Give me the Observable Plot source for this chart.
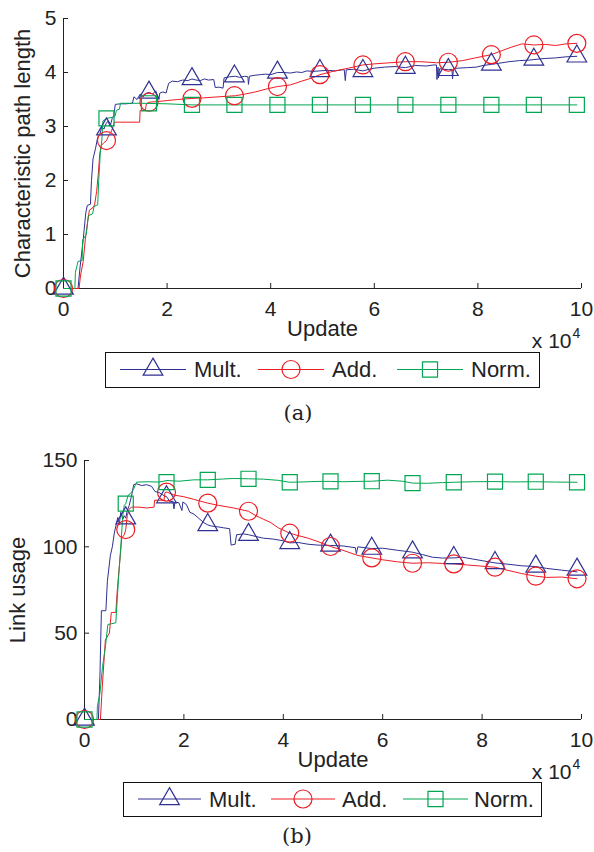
<!DOCTYPE html>
<html><head><meta charset="utf-8">
<script src="https://cdn.jsdelivr.net/npm/d3@7"></script>
<script src="https://cdn.jsdelivr.net/npm/@observablehq/plot@0.6"></script>
<style>
body{margin:0;background:#fff;}
#fig{position:relative;width:594px;height:852px;font-family:"Liberation Sans",Arial,Helvetica,sans-serif;color:#222;overflow:hidden;}
.panel{position:absolute;left:0;}
.legend{position:absolute;border:1.4px solid #111;box-sizing:border-box;}
.legend .item{position:absolute;top:0;height:100%;}
.legend .lab{position:absolute;top:50%;transform:translateY(-50%);font-size:22px;white-space:nowrap;line-height:1;}
.cap{position:absolute;font-family:"DejaVu Serif","Liberation Serif",serif;font-size:21px;transform:translate(-50%,-50%);color:#222;}
</style></head><body><div id="fig"></div>
<script>
// ---------- data (x in units of 10^4 updates) ----------
const seriesNames = ["Mult.", "Add.", "Norm."];
const seriesColors = ["#2e3192", "#ed1c24", "#00a651"];
const seriesSymbols = ["triangle", "circle", "square"];
const xTicks = [0, 2, 4, 6, 8, 10];
const pathTicks = [0, 1, 2, 3, 4, 5];
const usageTicks = [0, 50, 100, 150];
const markerUpdates = [0, 0.83, 1.65, 2.48, 3.3, 4.13, 4.95, 5.78, 6.6, 7.43, 8.26, 9.08, 9.91];

// (a) characteristic path length
const pathMult = [[0,0],[0.28,0],[0.32,0.4],[0.38,0.9],[0.43,1.4],[0.46,1.54],[0.52,1.56],[0.54,2.0],[0.57,2.4],[0.62,2.6],[0.66,2.8],[0.70,2.85],[0.74,3.0],[0.78,2.95],[0.82,3.05],[0.86,3.1],[0.90,3.0],[0.94,3.15],[0.97,3.2],[1.00,3.41],[1.10,3.42],[1.20,3.42],[1.33,3.43],[1.36,3.55],[1.42,3.5],[1.48,3.6],[1.54,3.55],[1.60,3.62],[1.66,3.63],[1.72,3.6],[1.78,3.66],[1.84,3.5],[1.86,3.62],[1.92,3.64],[1.98,3.62],[2.03,3.8],[2.1,3.84],[2.2,3.83],[2.3,3.86],[2.4,3.85],[2.48,3.88],[2.56,3.86],[2.64,3.85],[2.72,3.88],[2.8,3.86],[2.9,3.87],[2.93,3.72],[3.0,3.73],[3.08,3.71],[3.1,3.9],[3.2,3.92],[3.32,3.93],[3.4,3.91],[3.5,3.93],[3.56,3.92],[3.57,3.78],[3.59,3.93],[3.7,3.95],[3.8,3.96],[3.9,3.97],[4.0,3.96],[4.13,4.0],[4.25,4.0],[4.38,3.99],[4.5,4.01],[4.6,4.0],[4.7,4.03],[4.8,4.02],[4.95,4.03],[5.1,4.04],[5.25,4.03],[5.38,4.05],[5.42,4.05],[5.44,3.85],[5.46,4.05],[5.6,4.06],[5.78,4.03],[5.9,4.06],[6.0,4.08],[6.2,4.1],[6.4,4.11],[6.6,4.09],[6.8,4.13],[7.0,4.12],[7.15,4.14],[7.2,4.14],[7.21,3.87],[7.23,4.1],[7.24,3.9],[7.26,4.07],[7.44,4.05],[7.5,4.06],[7.51,3.88],[7.53,4.07],[7.6,4.08],[7.8,4.09],[7.97,4.1],[8.1,4.13],[8.26,4.15],[8.4,4.17],[8.6,4.2],[8.8,4.22],[9.0,4.23],[9.08,4.24],[9.3,4.26],[9.5,4.27],[9.7,4.29],[9.91,4.3]];
const pathAdd = [[0,0],[0.3,0],[0.33,0.25],[0.38,0.5],[0.42,0.9],[0.46,1.2],[0.5,1.45],[0.57,1.5],[0.6,1.55],[0.64,1.8],[0.67,2.1],[0.7,2.5],[0.73,2.65],[0.78,2.7],[0.83,2.74],[0.88,2.85],[0.92,2.9],[0.96,3.0],[0.98,3.08],[1.2,3.08],[1.47,3.08],[1.48,3.3],[1.58,3.3],[1.6,3.42],[1.65,3.45],[1.8,3.46],[2.0,3.48],[2.2,3.5],[2.48,3.52],[2.7,3.53],[3.0,3.55],[3.32,3.57],[3.5,3.6],[3.7,3.64],[3.9,3.69],[4.13,3.74],[4.38,3.77],[4.6,3.84],[4.8,3.9],[4.95,3.96],[5.2,4.02],[5.5,4.08],[5.78,4.14],[6.0,4.16],[6.3,4.18],[6.6,4.2],[6.9,4.2],[7.2,4.18],[7.44,4.19],[7.7,4.22],[7.95,4.27],[8.1,4.3],[8.26,4.33],[8.45,4.4],[8.65,4.47],[8.85,4.53],[9.08,4.51],[9.3,4.52],[9.5,4.5],[9.7,4.53],[9.91,4.54]];
const pathNorm = [[0,0],[0.22,0],[0.23,0.3],[0.28,0.5],[0.36,0.52],[0.37,0.9],[0.44,1.0],[0.48,1.35],[0.56,1.38],[0.59,1.52],[0.66,1.55],[0.68,2.0],[0.71,2.5],[0.74,2.75],[0.76,3.1],[0.83,3.15],[0.95,3.17],[1.0,3.2],[1.02,3.3],[1.08,3.32],[1.1,3.43],[1.5,3.43],[2.0,3.42],[2.48,3.4],[3.0,3.4],[4.0,3.4],[5.0,3.4],[6.0,3.4],[7.0,3.4],[8.0,3.4],[9.0,3.4],[9.91,3.4]];
const pathMultMarkers = [0, 2.95, 3.63, 3.88, 3.93, 4.0, 4.03, 4.03, 4.09, 4.05, 4.15, 4.24, 4.3];
const pathAddMarkers  = [0, 2.74, 3.45, 3.52, 3.57, 3.74, 3.96, 4.14, 4.2, 4.19, 4.33, 4.51, 4.54];
const pathNormMarkers = [0, 3.15, 3.43, 3.4, 3.4, 3.4, 3.4, 3.4, 3.4, 3.4, 3.4, 3.4, 3.4];

// (b) link usage
const usageMult = [[0,0],[0.28,0],[0.31,25],[0.34,63],[0.43,63],[0.46,80],[0.52,95],[0.56,100],[0.6,108],[0.63,112],[0.67,117],[0.7,113],[0.73,120],[0.77,116],[0.8,118],[0.83,116.6],[0.86,121],[0.9,124],[0.95,130],[0.99,136],[1.05,136.5],[1.15,135.5],[1.25,136],[1.35,135],[1.42,132],[1.5,131.5],[1.58,130],[1.66,128.8],[1.72,126],[1.78,126.5],[1.8,122],[1.82,126],[1.9,125.5],[1.96,121],[1.98,126],[2.05,124.5],[2.12,120],[2.2,119],[2.3,116.5],[2.4,114],[2.48,112.7],[2.56,112],[2.7,111.5],[2.8,111],[2.92,110.5],[2.95,101],[3.03,101.5],[3.06,107],[3.2,107.5],[3.3,107],[3.45,106],[3.6,105],[3.8,104.5],[4.0,103.5],[4.13,102.3],[4.3,102.5],[4.5,101.5],[4.7,101],[4.95,100.8],[5.2,100.5],[5.45,99.5],[5.47,96],[5.5,100],[5.78,99],[6.0,99.2],[6.3,98],[6.6,96.9],[6.8,95.5],[7.0,94],[7.2,93.5],[7.44,93.6],[7.6,94],[7.8,93],[8.0,92],[8.26,90.7],[8.5,90],[8.8,89],[9.08,88.6],[9.3,87.5],[9.6,86.5],[9.91,85.5]];
const usageAdd = [[0,0],[0.32,0],[0.36,20],[0.42,46],[0.5,50],[0.54,62],[0.63,62],[0.66,75],[0.69,85],[0.72,95],[0.75,105],[0.8,107],[0.83,110],[0.86,118],[0.9,122],[0.95,123],[1.1,123],[1.25,122.5],[1.4,123],[1.41,127],[1.6,127],[1.62,131.5],[1.66,131.7],[1.8,130],[2.0,129],[2.2,127.5],[2.48,125.3],[2.7,124],[3.0,122.5],[3.3,120.6],[3.45,118],[3.6,116],[3.75,114],[3.9,111],[4.13,107.9],[4.3,106.5],[4.5,105],[4.7,103],[4.95,100.2],[5.2,98],[5.5,95],[5.78,93.6],[6.0,92.5],[6.3,91.3],[6.6,90.5],[6.9,90.8],[7.2,90.4],[7.44,90.1],[7.7,89.5],[8.0,88.8],[8.26,88.2],[8.5,86.5],[8.8,84.5],[9.08,83],[9.3,82.3],[9.6,82.5],[9.91,81.5]];
const usageNorm = [[0,0],[0.25,0],[0.26,8],[0.31,15],[0.36,30],[0.42,42],[0.47,55],[0.63,56],[0.66,70],[0.69,84],[0.73,100],[0.77,118],[0.8,124],[0.83,125],[0.88,130],[0.93,131],[0.98,133],[1.05,137.5],[1.3,137.7],[1.5,137.5],[1.66,138.4],[1.9,138],[2.2,138.8],[2.48,138.8],[2.8,139.3],[3.0,139.6],[3.3,139.4],[3.6,139.2],[3.9,138.5],[4.13,137.4],[4.4,137.6],[4.7,137.9],[4.95,137.9],[5.2,137.7],[5.5,137.9],[5.78,138],[6.1,138.6],[6.4,138],[6.6,136.9],[6.9,136.8],[7.2,137.2],[7.44,137.4],[7.8,137.7],[8.26,137.8],[8.6,137.6],[9.08,137.7],[9.5,137.5],[9.91,137.4]];
const usageMultMarkers = [0, 116.6, 128.8, 112.7, 107, 102.3, 100.8, 99, 96.9, 93.6, 90.7, 88.6, 86.9];
const usageAddMarkers  = [0, 110, 131.7, 125.3, 120.6, 107.9, 100.2, 93.6, 90.5, 90.1, 88.2, 83, 81.5];
const usageNormMarkers = [0, 125, 137.5, 138.8, 139.4, 137.4, 137.9, 138, 136.9, 137.4, 137.8, 137.7, 137.4];

// ---------- styling ----------
const FONT = '"Liberation Sans", Arial, Helvetica, sans-serif';
const INK = "#222";
const symbolR = {triangle: 7.3, circle: 9, square: 8.5};
const d3Sym = {triangle: d3.symbolTriangle, circle: d3.symbolCircle, square: d3.symbolSquare};

function makeSeries(lines, markers) {
  return seriesNames.map((name, i) => ({
    name, color: seriesColors[i], symbol: seriesSymbols[i],
    line: lines[i],
    markers: markerUpdates.map((x, j) => ({x, y: markers[i][j]}))
  }));
}

function panel({series, yTicks, yDomain, yLabel, height, margins, yLabelDx}) {
  const marks = [
    Plot.ruleY([yDomain[0]], {stroke: INK, strokeWidth: 1}),
    Plot.ruleX([0], {stroke: INK, strokeWidth: 1}),
    Plot.axisX(xTicks, {tickSize: -5, tickPadding: 18, label: null, fontSize: 21, tickFormat: d => String(d)}),
    Plot.axisY(yTicks, {tickSize: -5, tickPadding: 12, label: null, fontSize: 21, tickFormat: d => String(d)}),
    Plot.text([yLabel], {frameAnchor: "left", textAnchor: "middle", lineAnchor: "middle", rotate: -90, dx: yLabelDx, fontSize: 22, text: d => d}),
    Plot.text(["Update"], {frameAnchor: "bottom", textAnchor: "middle", dy: 47, fontSize: 22, text: d => d}),
    Plot.text(["x 10"], {frameAnchor: "bottom-right", textAnchor: "end", dx: -10, dy: 59, fontSize: 21, text: d => d}),
    Plot.text(["4"], {frameAnchor: "bottom-right", textAnchor: "start", dx: -9, dy: 49, fontSize: 14, text: d => d})
  ];
  for (const s of series) {
    marks.push(Plot.line(s.line, {x: d => d[0], y: d => d[1], stroke: s.color, strokeWidth: 1}));
  }
  for (const s of series) {
    marks.push(Plot.dot(s.markers, {x: "x", y: "y", symbol: s.symbol, r: symbolR[s.symbol], stroke: s.color, fill: "none", strokeWidth: 1.2}));
  }
  return Plot.plot({
    width: 594, height,
    marginTop: margins[0], marginRight: margins[1], marginBottom: margins[2], marginLeft: margins[3],
    x: {domain: [0, 10]},
    y: {domain: yDomain},
    style: {fontFamily: FONT, color: INK, background: "transparent", overflow: "visible"},
    marks
  });
}

function legend({left, top, width, height, items}) {
  const box = document.createElement("div");
  box.className = "legend";
  Object.assign(box.style, {left: left + "px", top: top + "px", width: width + "px", height: height + "px"});
  seriesNames.forEach((name, i) => {
    const it = items[i];
    const svg = d3.create("svg").attr("width", it.lineLen).attr("height", height)
      .style("position", "absolute").style("left", it.x + "px").style("top", "-1.4px");
    const cy = height / 2 - 0.5;
    svg.append("line").attr("x1", 0).attr("x2", it.lineLen).attr("y1", cy).attr("y2", cy)
      .attr("stroke", seriesColors[i]).attr("stroke-width", 1);
    const r = symbolR[seriesSymbols[i]];
    svg.append("path").attr("d", d3.symbol(d3Sym[seriesSymbols[i]], Math.PI * r * r)())
      .attr("transform", `translate(${it.lineLen / 2},${cy})`)
      .attr("fill", "none").attr("stroke", seriesColors[i]).attr("stroke-width", 1.2);
    box.appendChild(svg.node());
    const lab = document.createElement("div");
    lab.className = "lab";
    lab.style.left = it.textX + "px";
    lab.textContent = name;
    box.appendChild(lab);
  });
  return box;
}

const fig = document.getElementById("fig");

const seriesA = makeSeries([pathMult, pathAdd, pathNorm], [pathMultMarkers, pathAddMarkers, pathNormMarkers]);
const plotA = panel({series: seriesA, yTicks: pathTicks, yDomain: [0, 5], yLabel: "Characteristic path length",
  height: 360, margins: [18, 13, 72, 63], yLabelDx: -41});
plotA.classList.add("panel"); plotA.style.top = "0px";
fig.appendChild(plotA);

const seriesB = makeSeries([usageMult, usageAdd, usageNorm], [usageMultMarkers, usageAddMarkers, usageNormMarkers]);
const plotB = panel({series: seriesB, yTicks: usageTicks, yDomain: [0, 150], yLabel: "Link usage",
  height: 360, margins: [20, 13, 81, 84], yLabelDx: -67});
plotB.classList.add("panel"); plotB.style.top = "440px";
fig.appendChild(plotB);

fig.appendChild(legend({left: 105, top: 352, width: 435, height: 36, items: [
  {x: 14, lineLen: 66, textX: 88}, {x: 152, lineLen: 66, textX: 226}, {x: 291, lineLen: 66, textX: 365}]}));
fig.appendChild(legend({left: 123, top: 782, width: 419, height: 35, items: [
  {x: 14, lineLen: 63, textX: 85}, {x: 147, lineLen: 64, textX: 218}, {x: 279, lineLen: 65, textX: 350}]}));

for (const [t, x, y] of [["(a)", 298, 413], ["(b)", 297, 836]]) {
  const c = document.createElement("div");
  c.className = "cap"; c.textContent = t;
  c.style.left = x + "px"; c.style.top = y + "px";
  fig.appendChild(c);
}
</script></body></html>
